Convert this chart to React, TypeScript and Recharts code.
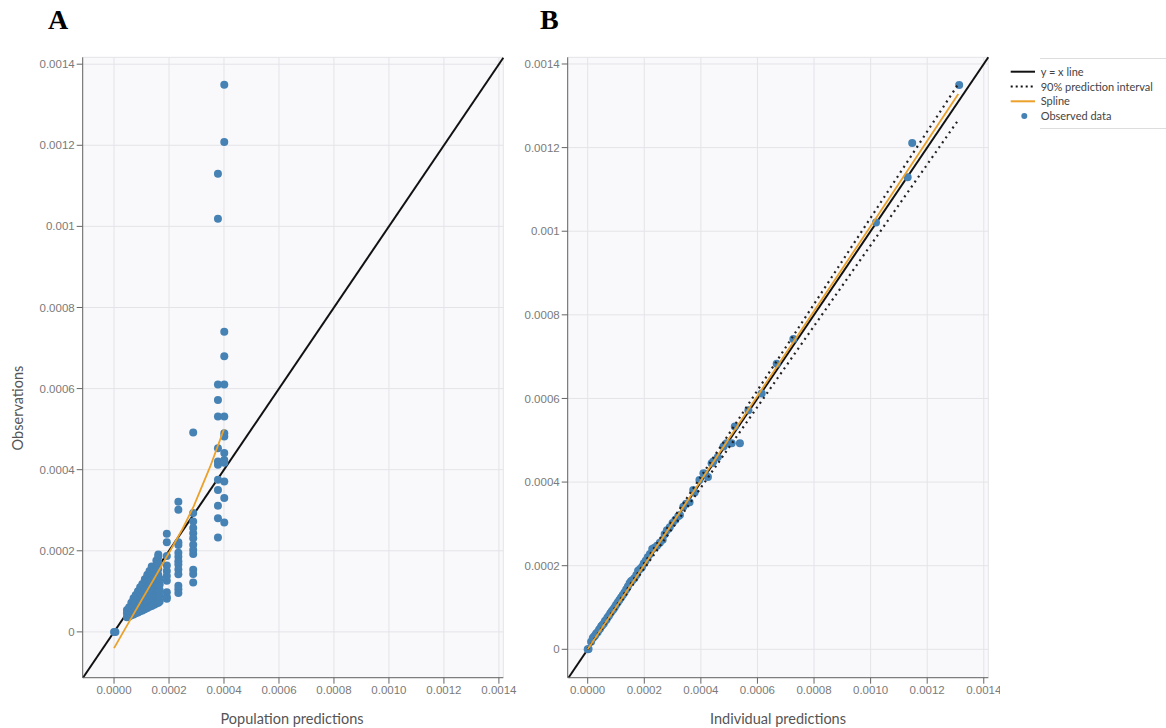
import React from 'react';
import { ScatterChart, Scatter, XAxis, YAxis, CartesianGrid, ReferenceLine } from 'recharts';

const BLUE = '#4682b4';
const ORANGE = '#eba12a';

const axisTicks = [0, 0.0002, 0.0004, 0.0006, 0.0008, 0.001, 0.0012, 0.0014];
const legendLabels = ['y = x line', '90% prediction interval', 'Spline', 'Observed data'];

// Panel A: population predictions (columns of observations per predicted level)
const popLevels = [
  0, 0.000005, 0.000047, 0.000055, 0.000063, 0.000071, 0.000079, 0.000087, 0.000095,
  0.000103, 0.000112, 0.000121, 0.000129, 0.000137, 0.000146, 0.000154, 0.000161,
  0.000166, 0.000192, 0.000234, 0.000288, 0.000378, 0.000401,
];
const popObs = [
  [0],
  [0],
  [0.000036, 0.000046, 0.000054],
  [0.000038, 0.000049, 0.000061],
  [0.000041, 0.000052, 0.000063, 0.000072],
  [0.000043, 0.000055, 0.000066, 0.000078, 0.000083],
  [0.000046, 0.000058, 0.000069, 0.000081, 0.000091],
  [0.000048, 0.00006, 0.000072, 0.000084, 0.000095, 0.0001],
  [0.000051, 0.000063, 0.000075, 0.000088, 0.000099, 0.00011],
  [0.000053, 0.000066, 0.000078, 0.000091, 0.000104, 0.000118],
  [0.000056, 0.000068, 0.000081, 0.000094, 0.000107, 0.00012, 0.00013],
  [0.000059, 0.000071, 0.000084, 0.000097, 0.00011, 0.000123, 0.000136, 0.000141],
  [0.000062, 0.000074, 0.000087, 0.0001, 0.000113, 0.000126, 0.00014, 0.00015],
  [0.000064, 0.000077, 0.00009, 0.000103, 0.000116, 0.000129, 0.000143, 0.000161],
  [0.000067, 0.00008, 0.000093, 0.000106, 0.000119, 0.000133, 0.000147, 0.00016],
  [0.00007, 0.000083, 0.000096, 0.000109, 0.000122, 0.000136, 0.00015, 0.000165, 0.000176],
  [0.000072, 0.000086, 0.0001, 0.000113, 0.000127, 0.000141, 0.000155, 0.000172, 0.000186, 0.000191],
  [0.000075, 0.000089, 0.000103, 0.000117, 0.000131],
  [0.000242, 0.000221, 0.000187, 0.000164, 0.00015, 0.000138, 0.000126, 0.000098, 0.000086, 0.000082],
  [0.000321, 0.000301, 0.000221, 0.000214, 0.000195, 0.000185, 0.000174, 0.000166, 0.000154, 0.000142, 0.000114, 0.000105, 0.000096],
  [0.000492, 0.000293, 0.000272, 0.000256, 0.000243, 0.000231, 0.000215, 0.000202, 0.000192, 0.000153, 0.000143, 0.000122],
  [0.00113, 0.001019, 0.00061, 0.000572, 0.000531, 0.000453, 0.00042, 0.000412, 0.000375, 0.00035, 0.000311, 0.00028, 0.000233],
  [0.001349, 0.001208, 0.00074, 0.00068, 0.00061, 0.000531, 0.00049, 0.000482, 0.000441, 0.000424, 0.000417, 0.000371, 0.00033, 0.00027],
];

const splineAX = [0, 0.00005, 0.0001, 0.00015, 0.0002, 0.00025, 0.00029, 0.00035, 0.0004];
const splineAY = [-0.00004, 0.000019, 0.000078, 0.000136, 0.000195, 0.000255, 0.00031, 0.000408, 0.0005];

// Panel B: individual predictions
const indPred = [
  0, 0.000003, 0.000012, 0.000018, 0.000022, 0.000026, 0.00003, 0.000035, 0.00004, 0.000044,
  0.000048, 0.000052, 0.000057, 0.000061, 0.000066, 0.00007, 0.000075, 0.00008, 0.000085,
  0.00009, 0.000095, 0.0001, 0.000106, 0.000112, 0.000118, 0.000124, 0.00013, 0.000136,
  0.000142, 0.000148, 0.000153, 0.000158, 0.000165, 0.000172, 0.000178, 0.000185, 0.000192,
  0.000198, 0.000205, 0.000212, 0.00022, 0.000228, 0.000236, 0.000245, 0.000255, 0.000265,
  0.000272, 0.00028, 0.00029, 0.0003, 0.00031, 0.00032, 0.000326, 0.000338, 0.000348,
  0.00036, 0.000373, 0.000378, 0.000395, 0.000409, 0.000415, 0.000425, 0.000438, 0.000444,
  0.00046, 0.00048, 0.000491, 0.000509, 0.000538, 0.00052, 0.000568, 0.000615, 0.000668,
  0.000727, 0.001019, 0.001131, 0.001147, 0.001313,
];
const indObs = [
  0, 0.000001, 0.000018, 0.000027, 0.00003, 0.000033, 0.000038, 0.000041, 0.000047, 0.00005,
  0.000055, 0.000058, 0.000062, 0.000068, 0.000071, 0.000076, 0.00008, 0.000086, 0.000091,
  0.000095, 0.0001, 0.000106, 0.000112, 0.000118, 0.000124, 0.00013, 0.000136, 0.000143,
  0.00015, 0.000158, 0.000163, 0.000165, 0.00017, 0.000178, 0.000188, 0.000192, 0.000197,
  0.000205, 0.000212, 0.00022, 0.000228, 0.00024, 0.000243, 0.000248, 0.000255, 0.000262,
  0.000275, 0.000285, 0.000292, 0.000302, 0.00031, 0.000318, 0.000321, 0.000341, 0.000348,
  0.000352, 0.000381, 0.000375, 0.000405, 0.000421, 0.00042, 0.000412, 0.000445, 0.000449,
  0.00046, 0.000485, 0.000493, 0.000493, 0.000493, 0.000533, 0.000572, 0.000612, 0.000683,
  0.000742, 0.001021, 0.001129, 0.001211, 0.00135,
];

const splineBX = [0, 0.0003, 0.0006, 0.001, 0.00131];
const splineBY = [0, 0.000302, 0.000606, 0.001012, 0.001328];

const piX = [0, 0.00131];
const piUpper = [0, 0.001352];
const piLower = [0, 0.001266];

const pairs = (xs: number[], ys: number[]) => xs.map((x, i) => ({ x, y: ys[i] }));

const pointsA = popLevels.flatMap((x, i) => popObs[i].map((y) => ({ x, y })));
const pointsB = pairs(indPred, indObs);

const tickStyle = { fill: '#7a7a7a', fontSize: 11.5, fontFamily: 'Liberation Sans, Arial, sans-serif' };
const fmtY = (v: number) => (v === 0 ? '0' : String(Number(v.toFixed(4))));
const fmtX = (v: number) => v.toFixed(4);

const dot = (p: any) => <circle cx={p.cx} cy={p.cy} r={4} fill={BLUE} />;
const noDot = () => <g />;

const dotted = { stroke: '#222', strokeWidth: 2.2, strokeDasharray: '2 4' };
const titleFont = { fontFamily: 'Lato, "Open Sans", sans-serif', fontSize: 14.5, color: '#555', whiteSpace: 'nowrap' as const };
const letterFont = { fontFamily: '"Liberation Serif", serif', fontWeight: 'bold' as const, fontSize: 28 };

export default function App() {
  return (
    <div style={{ position: 'absolute', left: 0, top: 0, width: 1166, height: 728, background: '#fff', overflow: 'hidden' }}>
      <div style={{ ...letterFont, position: 'absolute', left: 48, top: 4 }}>A</div>
      <div style={{ ...letterFont, position: 'absolute', left: 540, top: 4 }}>B</div>

      <div style={{ position: 'absolute', left: 0, top: 0 }}>
        <ScatterChart width={520} height={728} margin={{ top: 57.3, right: 16.7, bottom: 20.3, left: 22.7 }}>
          <CartesianGrid fill="#f9f9fc" stroke="#e4e4e8" />
          <XAxis type="number" dataKey="x" domain={[-0.000114, 0.001416]} allowDataOverflow ticks={axisTicks}
            tickFormatter={fmtX} tick={tickStyle} height={30} stroke="#666" tickSize={6} />
          <YAxis type="number" dataKey="y" domain={[-0.000113, 0.001417]} allowDataOverflow ticks={axisTicks}
            tickFormatter={fmtY} tick={tickStyle} width={60} stroke="#666" tickSize={6} />
          <Scatter data={pointsA} shape={dot} isAnimationActive={false} />
          <ReferenceLine segment={[{ x: -0.000113, y: -0.000113 }, { x: 0.001416, y: 0.001416 }]} stroke="#111" strokeWidth={2} />
          <Scatter data={pairs(splineAX, splineAY)} shape={noDot} line={{ stroke: ORANGE, strokeWidth: 1.8 }}
            lineType="joint" isAnimationActive={false} />
        </ScatterChart>
      </div>

      <div style={{ position: 'absolute', left: 500, top: 0 }}>
        <ScatterChart width={500} height={728} margin={{ top: 57.3, right: 11.7, bottom: 20.3, left: 7.7 }}>
          <CartesianGrid fill="#f9f9fc" stroke="#e4e4e8" />
          <XAxis type="number" dataKey="x" domain={[-0.0000707, 0.001416]} allowDataOverflow ticks={axisTicks}
            tickFormatter={fmtX} tick={tickStyle} height={30} stroke="#666" tickSize={6} />
          <YAxis type="number" dataKey="y" domain={[-0.0000679, 0.001416]} allowDataOverflow ticks={axisTicks}
            tickFormatter={fmtY} tick={tickStyle} width={60} stroke="#666" tickSize={6} />
          <Scatter data={pointsB} shape={dot} isAnimationActive={false} />
          <ReferenceLine segment={[{ x: -0.0000679, y: -0.0000679 }, { x: 0.001416, y: 0.001416 }]} stroke="#111" strokeWidth={2} />
          <Scatter data={pairs(piX, piUpper)} shape={noDot} line={dotted} lineType="joint" isAnimationActive={false} />
          <Scatter data={pairs(piX, piLower)} shape={noDot} line={dotted} lineType="joint" isAnimationActive={false} />
          <Scatter data={pairs(splineBX, splineBY)} shape={noDot} line={{ stroke: ORANGE, strokeWidth: 1.8 }}
            lineType="joint" isAnimationActive={false} />
        </ScatterChart>
      </div>

      <div style={{ ...titleFont, position: 'absolute', left: 17, top: 408, transform: 'translate(-50%, -50%) rotate(-90deg)' }}>
        Observations
      </div>
      <div style={{ ...titleFont, position: 'absolute', left: 292, top: 718, transform: 'translate(-50%, -50%)' }}>
        Population predictions
      </div>
      <div style={{ ...titleFont, position: 'absolute', left: 778, top: 718, transform: 'translate(-50%, -50%)' }}>
        Individual predictions
      </div>

      <div style={{ position: 'absolute', left: 1040, top: 58, width: 126, height: 69, borderTop: '1px solid #ddd', borderBottom: '1px solid #ddd' }} />
      <svg style={{ position: 'absolute', left: 1000, top: 60 }} width={166} height={66}>
        {legendLabels.map((label, i) => {
          const cy = 11.7 + i * 14.8;
          return (
            <g key={label}>
              {i === 0 && <line x1={10.7} x2={35} y1={cy} y2={cy} stroke="#111" strokeWidth={2} />}
              {i === 1 && <line x1={10.7} x2={35} y1={cy} y2={cy} stroke="#111" strokeWidth={2} strokeDasharray="2 3" />}
              {i === 2 && <line x1={10.7} x2={35} y1={cy} y2={cy} stroke={ORANGE} strokeWidth={2} />}
              {i === 3 && <circle cx={24.3} cy={cy} r={3} fill={BLUE} />}
              <text x={40.7} y={cy + 4} fontSize={11} fill="#444" fontFamily='Lato, "Open Sans", sans-serif'>
                {label}
              </text>
            </g>
          );
        })}
      </svg>
    </div>
  );
}
